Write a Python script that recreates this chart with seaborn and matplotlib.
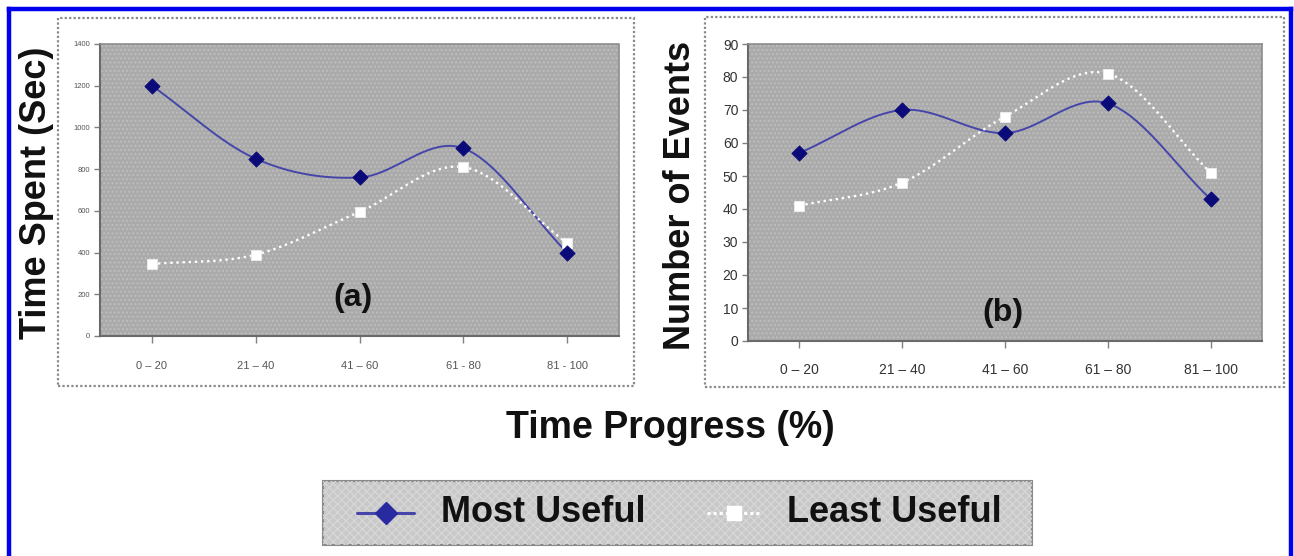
import numpy as np
import pandas as pd
import matplotlib
matplotlib.use("Agg")
import matplotlib.pyplot as plt
from matplotlib.patches import Rectangle
from matplotlib.lines import Line2D
import seaborn as sns

# ---------------- data ----------------
categories_a = ["0 – 20", "21 – 40", "41 – 60", "61 - 80", "81 - 100"]
categories_b = ["0 – 20", "21 – 40", "41 – 60", "61 – 80", "81 – 100"]
time_most = [1200, 850, 760, 900, 400]
time_least = [345, 390, 595, 810, 445]
events_most = [57, 70, 63, 72, 43]
events_least = [41, 48, 68, 81, 51]
yticks_a = [0, 200, 400, 600, 800, 1000, 1200, 1400]
yticks_b = [0, 10, 20, 30, 40, 50, 60, 70, 80, 90]
series_names = ["Most Useful", "Least Useful"]

sns.set_theme(style="white")
plt.rcParams["font.family"] = ["Liberation Sans", "DejaVu Sans"]
plt.rcParams["hatch.linewidth"] = 1.0

W, H = 1294, 556
fig = plt.figure(figsize=(W / 100, H / 100), dpi=100)
fig.patch.set_facecolor("white")

MOST_LINE = "#4646aa"
MOST_MARK = "#0a0a78"
LEAST = "white"
BG = "#aaaaaa"


def fx(px):
    return px / W


def fy(py):
    return 1 - py / H


def smooth(y, n=40):
    """Catmull-Rom style smoothing of the drawn line between data points."""
    y = np.asarray(y, dtype=float)
    x = np.arange(len(y), dtype=float)
    px = np.concatenate([[2 * x[0] - x[1]], x, [2 * x[-1] - x[-2]]])
    py = np.concatenate([[2 * y[0] - y[1]], y, [2 * y[-1] - y[-2]]])
    xs, ys = [], []
    for i in range(1, len(px) - 2):
        t = np.linspace(0, 1, n, endpoint=(i == len(px) - 3))
        for arr, out in ((px, xs), (py, ys)):
            p0, p1, p2, p3 = arr[i - 1], arr[i], arr[i + 1], arr[i + 2]
            out.extend(0.5 * ((2 * p1) + (-p0 + p2) * t
                              + (2 * p0 - 5 * p1 + 4 * p2 - p3) * t ** 2
                              + (-p0 + 3 * p1 - 3 * p2 + p3) * t ** 3))
    return np.array(xs), np.array(ys)


def panel(rect, box, cats, most, least, yticks, ylabel, tag, tagpos, ylabel_x,
          xfs, yfs, tick_col, xpad):
    fig.add_artist(Rectangle((box[0], box[1]), box[2], box[3], transform=fig.transFigure,
                             facecolor="white", edgecolor="#8a8a8a", lw=1.6, ls=(0, (1, 1)),
                             zorder=0))
    ax = fig.add_axes(rect)
    ax.set_facecolor(BG)
    ax.add_patch(Rectangle((0, 0), 1, 1, transform=ax.transAxes, facecolor=BG,
                           edgecolor="#bdbdbd", hatch="....", lw=0, zorder=0))
    x = np.arange(len(cats))
    sx, sy = smooth(most)
    sns.lineplot(x=sx, y=sy, ax=ax, color=MOST_LINE, lw=1.4, sort=False, zorder=2)
    lx, ly = smooth(least)
    sns.lineplot(x=lx, y=ly, ax=ax, color=LEAST, lw=1.7, ls=(0, (1, 1.6)), sort=False, zorder=2)
    sns.scatterplot(x=x, y=most, ax=ax, marker="D", s=60, color=MOST_MARK,
                    edgecolor=MOST_MARK, zorder=4)
    sns.scatterplot(x=x, y=least, ax=ax, marker="s", s=55, color=LEAST,
                    edgecolor="#eeeeee", zorder=3)
    ax.set_xlim(-0.5, len(cats) - 0.5)
    ax.set_ylim(yticks[0], yticks[-1])
    ax.set_xticks(x)
    ax.set_xticklabels(cats, fontsize=xfs, color=tick_col)
    ax.set_yticks(yticks)
    ax.set_yticklabels([str(v) for v in yticks], fontsize=yfs, color=tick_col)
    ax.tick_params(axis="x", length=5, width=1, color="#808080", pad=xpad, direction="out", bottom=True)
    ax.tick_params(axis="y", length=4, width=1, color="#808080", pad=3, direction="out", left=True)
    for s in ["left", "bottom"]:
        ax.spines[s].set_color("#6a6a6a")
        ax.spines[s].set_linewidth(1.5)
    for s in ["top", "right"]:
        ax.spines[s].set_color("#8c8c8c")
        ax.spines[s].set_linewidth(1.2)
        ax.spines[s].set_linestyle((0, (1, 1)))
    ax.set_xlabel("")
    ax.set_ylabel("")
    fig.text(tagpos[0], tagpos[1], tag, fontsize=23, fontweight="bold",
             ha="center", va="center", color="#111111")
    fig.text(ylabel_x, (rect[1] + rect[1] + rect[3]) / 2 - 0.005, ylabel, rotation=90,
             fontsize=26, fontweight="bold", ha="center", va="center", color="#111111")
    return ax


ax_a = panel([fx(100), fy(336), fx(619) - fx(100), fy(44) - fy(336)],
             [fx(58), fy(386), fx(634) - fx(58), fy(18) - fy(386)],
             categories_a, time_most, time_least, yticks_a, "Time Spent (Sec)", "(a)",
             (fx(353), fy(298)), fx(37), 8, 5.5, "#555555", 13)
ax_b = panel([fx(748), fy(341), fx(1262) - fx(748), fy(44) - fy(341)],
             [fx(705), fy(387), fx(1284) - fx(705), fy(17) - fy(387)],
             categories_b, events_most, events_least, yticks_b, "Number of Events", "(b)",
             (fx(1003), fy(313)), fx(680), 10, 10, "#333333", 11)

fig.text(fx(670), fy(428), "Time Progress (%)", fontsize=27, fontweight="bold",
         ha="center", va="center", color="#111111")

# ---------------- legend ----------------
fig.add_artist(Rectangle((fx(323), fy(545)), fx(1032) - fx(323), fy(481) - fy(545),
                         transform=fig.transFigure, facecolor="#c8c8c8",
                         edgecolor="#8a8a8a", lw=1.5, zorder=1))
fig.add_artist(Rectangle((fx(323), fy(545)), fx(1032) - fx(323), fy(481) - fy(545),
                         transform=fig.transFigure, facecolor="none",
                         edgecolor="#d6d6d6", hatch="xxxx", lw=0, zorder=1))
ly_ = fy(513)
fig.add_artist(Line2D([fx(357), fx(414)], [ly_, ly_], transform=fig.transFigure,
                      color=MOST_LINE, lw=2.2, zorder=2))
fig.add_artist(Line2D([fx(386)], [ly_], transform=fig.transFigure, marker="D",
                      markersize=11, markerfacecolor="#2a2aa0", markeredgecolor="#2a2aa0",
                      lw=0, zorder=3))
fig.add_artist(Line2D([fx(707), fx(760)], [ly_, ly_], transform=fig.transFigure,
                      color="white", lw=2.2, ls=(0, (1, 1)), zorder=2))
fig.add_artist(Line2D([fx(734)], [ly_], transform=fig.transFigure, marker="s",
                      markersize=10, markerfacecolor="white", markeredgecolor="white",
                      lw=0, zorder=3))
fig.text(fx(441), ly_, series_names[0], fontsize=26, fontweight="bold",
         ha="left", va="center", color="#111111", zorder=3)
fig.text(fx(787), ly_, series_names[1], fontsize=26, fontweight="bold",
         ha="left", va="center", color="#111111", zorder=3)

# outer blue frame
for (x0, y0, x1, y1) in [(fx(9), fy(9), fx(1291), fy(9)),
                         (fx(9), fy(9), fx(9), -0.02),
                         (fx(1291), fy(9), fx(1291), -0.02)]:
    fig.add_artist(Line2D([x0, x1], [y0, y1], transform=fig.transFigure,
                          color="#0000ee", lw=3.2, solid_capstyle="projecting"))

fig.savefig("out.png", dpi=100, facecolor="white")
